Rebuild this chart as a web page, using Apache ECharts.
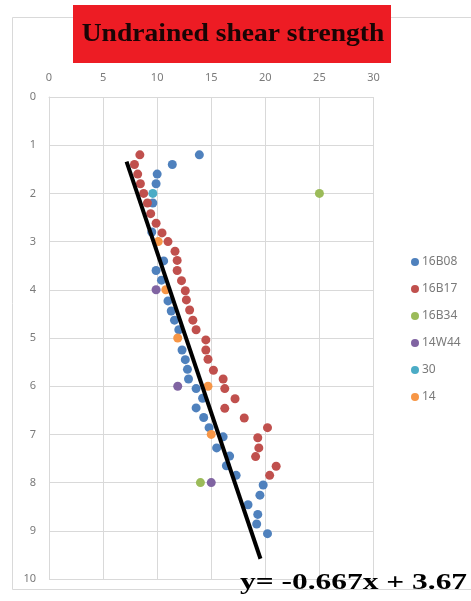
<!DOCTYPE html>
<html>
<head>
<meta charset="utf-8">
<script src="https://cdn.jsdelivr.net/npm/echarts@6/dist/echarts.min.js"></script>
<style>html,body{margin:0;padding:0;background:#fff;}#c{width:471px;height:601px;}</style>
</head>
<body>
<div id="c"></div>
<script>
// ---- data (x = shear strength, y = depth) ----
const seriesNames = ['16B08', '16B17', '16B34', '14W44', '30', '14'];

const b08X = [13.9, 11.4, 10.0, 9.9, 9.6, 9.5, 10.6, 9.9, 10.4, 11.0, 11.3, 11.6, 12.0, 12.3, 12.6, 12.8, 12.9, 13.6, 14.2, 13.6, 14.3, 14.8, 16.1, 15.5, 16.7, 16.4, 17.3, 19.8, 19.5, 18.4, 19.3, 19.2, 20.2];
const b08Y = [1.2, 1.4, 1.6, 1.8, 2.2, 2.8, 3.4, 3.6, 3.8, 4.23, 4.44, 4.63, 4.83, 5.25, 5.45, 5.65, 5.85, 6.05, 6.25, 6.45, 6.65, 6.86, 7.05, 7.28, 7.45, 7.65, 7.85, 8.05, 8.26, 8.46, 8.66, 8.86, 9.06];

const b17X = [8.4, 7.9, 8.2, 8.45, 8.75, 9.1, 9.4, 9.9, 10.45, 11.0, 11.65, 11.85, 11.85, 12.25, 12.6, 12.7, 13.0, 13.3, 13.6, 14.5, 14.5, 14.7, 15.2, 16.1, 16.25, 17.2, 16.25, 18.05, 20.2, 19.3, 19.4, 19.1, 21.0, 20.4];
const b17Y = [1.2, 1.4, 1.6, 1.8, 2.0, 2.2, 2.42, 2.62, 2.82, 3.0, 3.2, 3.39, 3.6, 3.81, 4.02, 4.21, 4.42, 4.63, 4.83, 5.04, 5.25, 5.44, 5.67, 5.85, 6.05, 6.26, 6.46, 6.66, 6.86, 7.07, 7.28, 7.46, 7.66, 7.85];

const b34X = [25.0, 14.0];
const b34Y = [2.0, 8.0];

const w44X = [9.9, 11.9, 15.0];
const w44Y = [4.0, 6.0, 8.0];

const s30X = [9.6];
const s30Y = [2.0];

const s14X = [10.1, 10.8, 11.9, 14.7, 15.0];
const s14Y = [3.0, 4.0, 5.0, 6.0, 7.0];

// trend line end points (data units)
const trendX = [7.17, 19.55];
const trendY = [1.34, 9.58];

const titleText = 'Undrained shear strength';
const equationText = 'y= -0.667x + 3.67';

const xMin = 0, xMax = 30, xStep = 5;
const yMin = 0, yMax = 10, yStep = 1;

const colors = ['#4F81BD', '#C0504D', '#9BBB59', '#8064A2', '#4BACC6', '#F79646'];

function pairs(xs, ys) { return xs.map((x, i) => [x, ys[i]]); }

const seriesXY = [[b08X, b08Y], [b17X, b17Y], [b34X, b34Y], [w44X, w44Y], [s30X, s30Y], [s14X, s14Y]];

const chart = echarts.init(document.getElementById('c'), null, { renderer: 'canvas' });

const series = seriesNames.map((name, i) => ({
  name: name,
  type: 'scatter',
  symbol: 'circle',
  symbolSize: 9,
  itemStyle: { color: colors[i], opacity: 1 },
  data: pairs(seriesXY[i][0], seriesXY[i][1]),
  z: 2 + i,
  silent: true,
  animation: false
}));

series.push({
  name: 'trend',
  type: 'line',
  data: pairs(trendX, trendY),
  symbol: 'none',
  lineStyle: { color: '#000', width: 4 },
  z: 20,
  silent: true,
  animation: false
});

const axisLabelStyle = { color: '#7a7a7a', fontSize: 11, fontFamily: 'Noto Sans' };

chart.setOption({
  animation: false,
  backgroundColor: '#fff',
  color: colors,
  grid: { left: 49, right: 97.5, top: 97, bottom: 22, containLabel: false },
  xAxis: {
    type: 'value', position: 'top', min: xMin, max: xMax, interval: xStep,
    axisLine: { show: true, lineStyle: { color: '#d9d9d9' } },
    axisTick: { show: false },
    splitLine: { show: true, lineStyle: { color: '#d9d9d9', width: 1 } },
    axisLabel: Object.assign({ margin: 14 }, axisLabelStyle)
  },
  yAxis: {
    type: 'value', inverse: true, min: yMin, max: yMax, interval: yStep,
    axisLine: { show: true, lineStyle: { color: '#d9d9d9' } },
    axisTick: { show: false },
    splitLine: { show: true, lineStyle: { color: '#d9d9d9', width: 1 } },
    axisLabel: Object.assign({ margin: 13 }, axisLabelStyle)
  },
  legend: {
    data: seriesNames,
    orient: 'vertical',
    left: 406,
    top: 250,
    icon: 'circle',
    itemWidth: 8,
    itemHeight: 8,
    itemGap: 13,
    textStyle: { color: '#7a7a7a', fontSize: 12, fontFamily: 'Noto Sans', lineHeight: 14, padding: [0, 0, 0, -2] },
    selectedMode: false
  },
  graphic: [
    { type: 'rect', shape: { x: 12.5, y: 17.5, width: 480, height: 572 }, style: { fill: null, stroke: '#d9d9d9', lineWidth: 1 }, z: -10, silent: true },
    { type: 'rect', shape: { x: 73, y: 5, width: 318, height: 58 }, style: { fill: '#ED1C24' }, z: 30, silent: true },
    { type: 'text', x: 233, y: 34, scaleX: 1.06, style: { text: titleText, fill: '#1a0505', font: 'bold 26px "Liberation Serif"', textAlign: 'center', textVerticalAlign: 'middle' }, z: 31, silent: true },
    { type: 'text', x: 240, y: 583, scaleX: 1.31, style: { text: equationText, fill: '#000', font: 'bold 24px "Liberation Serif"', textAlign: 'left', textVerticalAlign: 'middle' }, z: 31, silent: true }
  ],
  series: series
});
</script>
</body>
</html>
